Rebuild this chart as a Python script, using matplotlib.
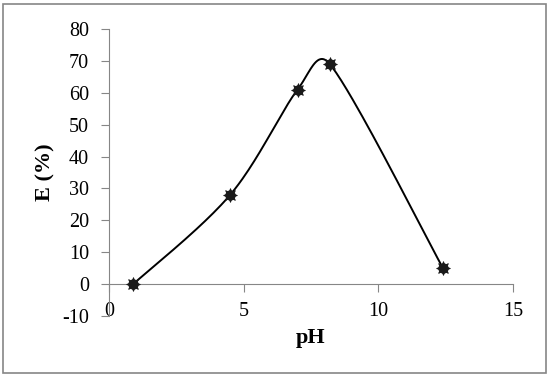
import numpy as np
import matplotlib.pyplot as plt
from matplotlib.patches import Rectangle

plt.rcParams['font.family'] = ['Liberation Serif', 'DejaVu Serif']
plt.rcParams['axes.unicode_minus'] = False

# data
ph = [0.9, 4.5, 7.0, 8.2, 12.4]
extraction = [0, 28, 61, 69, 5]

x_ticks = [0, 5, 10, 15]
y_ticks = [-10, 0, 10, 20, 30, 40, 50, 60, 70, 80]

fig = plt.figure(figsize=(5.5, 3.78), dpi=100)
ax = fig.add_axes([109/550, 1-316/378, 404/550, 287/378])
ax.set_xlim(0, 15)
ax.set_ylim(-10, 80)


def excel_smooth(xs, ys, n=40):
    # excel style smoothed line: bezier through the points in display space,
    # control arm = (next - prev)/6 but never longer than half the segment
    pts = ax.transData.transform(np.column_stack([xs, ys]))
    out = [pts[0]]
    for i in range(len(pts) - 1):
        p0 = pts[i - 1] if i > 0 else pts[i]
        p1, p2 = pts[i], pts[i + 1]
        p3 = pts[i + 2] if i + 2 < len(pts) else pts[i + 1]
        d12 = np.hypot(*(p2 - p1))
        t1 = (p2 - p0) / 6
        t2 = (p3 - p1) / 6
        l1, l2 = np.hypot(*t1), np.hypot(*t2)
        if l1 > d12 / 2:
            t1 = t1 * (d12 / 2) / l1
        if l2 > d12 / 2:
            t2 = t2 * (d12 / 2) / l2
        c1 = p1 + t1
        c2 = p2 - t2
        t = np.linspace(0, 1, n)[1:, None]
        seg = ((1-t)**3)*p1 + 3*((1-t)**2)*t*c1 + 3*(1-t)*t**2*c2 + t**3*p2
        out.extend(seg)
    out = ax.transData.inverted().transform(np.array(out))
    return out[:, 0], out[:, 1]


sx, sy = excel_smooth(ph, extraction)
ax.plot(sx, sy, color='black', lw=1.4, zorder=2)
ax.plot(ph, extraction, ls='none', marker='o', ms=6.5, color='#1a1a1a', zorder=3)
ax.plot(ph, extraction, ls='none', marker=(8, 1, 0), ms=10, color='#1a1a1a',
        markeredgecolor='#1a1a1a', mew=0.6, zorder=3)

for s in ['top', 'right']:
    ax.spines[s].set_visible(False)
ax.spines['bottom'].set_position(('data', 0))
ax.spines['bottom'].set_color('#868686')
ax.spines['left'].set_color('#868686')
ax.set_xticks(x_ticks)
ax.set_yticks(y_ticks)
ax.tick_params(axis='x', direction='out', length=6, color='#868686', pad=7, labelsize=14.5)
ax.tick_params(axis='y', direction='out', length=6, color='#868686', pad=8.5, labelsize=14.5)

ax.set_xlabel('pH', fontsize=16, fontweight='bold')
ax.xaxis.set_label_coords(202/404, (316-338)/287)
ax.xaxis.label.set_va('center')
ax.set_ylabel('E (%)', fontsize=16, fontweight='bold')
ax.yaxis.set_label_coords(-(109-45)/404, (316-172)/287)
ax.yaxis.label.set_va('center')

fig.patches.append(Rectangle((3/550, 5/378), 543/550, 369/378, transform=fig.transFigure,
                             fill=False, edgecolor='#868686', lw=1.2))

fig.savefig('out.png', dpi=100)
